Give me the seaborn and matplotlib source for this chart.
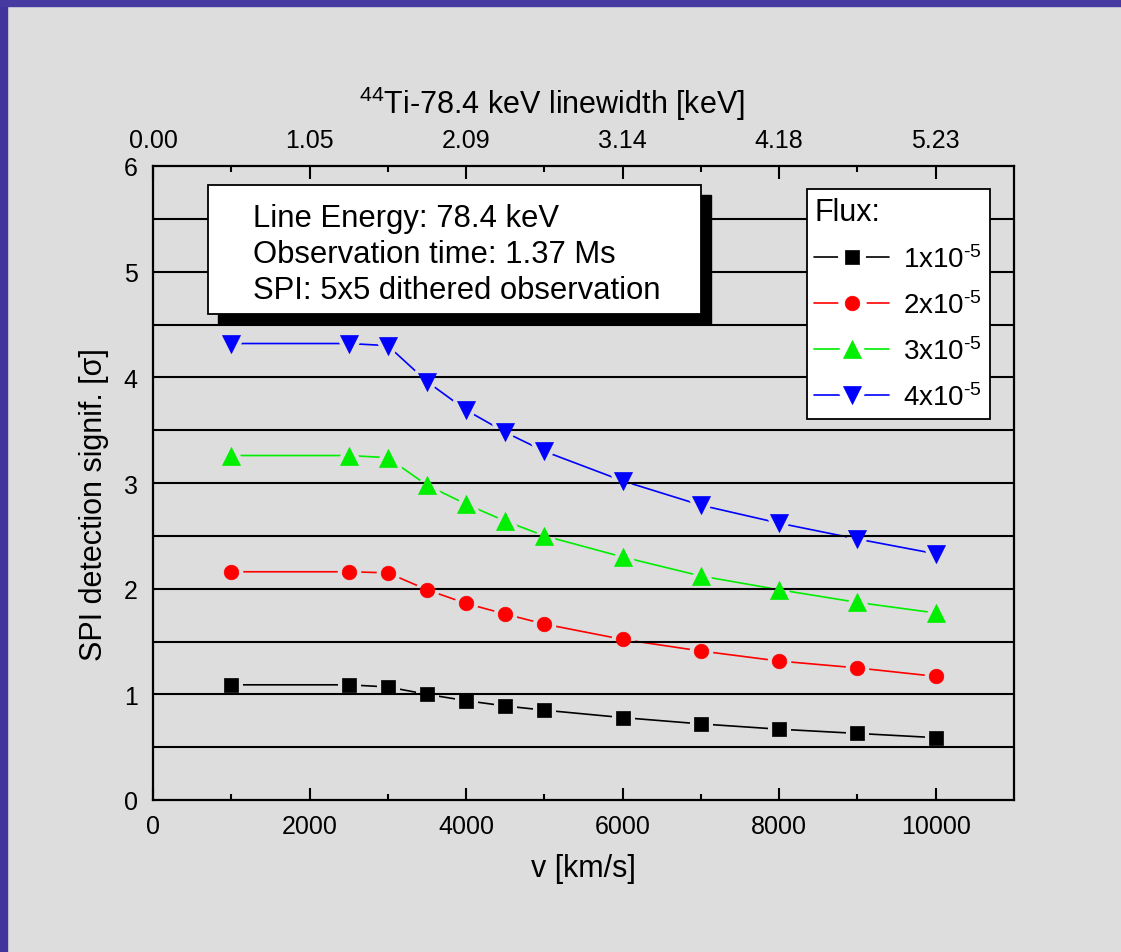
import numpy as np
import pandas as pd
import seaborn as sns
import matplotlib.pyplot as plt
from matplotlib.patches import Rectangle
from matplotlib.lines import Line2D
from matplotlib.markers import MarkerStyle
from matplotlib.legend_handler import HandlerTuple
import matplotlib.transforms as mtransforms

sns.set_style("white")
plt.rcParams["font.family"] = ["Liberation Sans", "DejaVu Sans"]
plt.rcParams["mathtext.fontset"] = "custom"
plt.rcParams["mathtext.rm"] = "Liberation Sans"
plt.rcParams["mathtext.it"] = "Liberation Sans:italic"
plt.rcParams["mathtext.bf"] = "Liberation Sans:bold"
plt.rcParams["mathtext.default"] = "regular"
for k in ["text.color", "axes.labelcolor", "xtick.color", "ytick.color"]:
    plt.rcParams[k] = "black"

# data
v = [1000, 2500, 3000, 3500, 4000, 4500, 5000, 6000, 7000, 8000, 9000, 10000]
flux_1 = [1.09, 1.09, 1.07, 1.00, 0.94, 0.89, 0.85, 0.78, 0.72, 0.67, 0.63, 0.59]
flux_2 = [2.16, 2.16, 2.15, 1.99, 1.86, 1.76, 1.665, 1.52, 1.41, 1.315, 1.25, 1.17]
flux_3 = [3.26, 3.26, 3.24, 2.98, 2.80, 2.64, 2.50, 2.30, 2.12, 1.99, 1.87, 1.77]
flux_4 = [4.32, 4.32, 4.30, 3.96, 3.69, 3.48, 3.30, 3.02, 2.79, 2.62, 2.47, 2.33]
flux_labels = [r"1x10$^{\text{-}5}$", r"2x10$^{\text{-}5}$",
               r"3x10$^{\text{-}5}$", r"4x10$^{\text{-}5}$"]
top_labels = ["0.00", "1.05", "2.09", "3.14", "4.18", "5.23"]

df = pd.DataFrame({"v": v * 4,
                   "sig": flux_1 + flux_2 + flux_3 + flux_4,
                   "flux": np.repeat(flux_labels, len(v))})

bg = "#dddddd"
colors = ["black", "#ff0000", "#00ee00", "#0000ff"]
markers = [MarkerStyle("s", joinstyle="round"), MarkerStyle("o"),
           MarkerStyle("^", joinstyle="round"), MarkerStyle("v", joinstyle="round")]
msizes = [9.5, 10.5, 13.5, 13.5]

fig = plt.figure(figsize=(11.21, 9.53), dpi=100, facecolor=bg)
fig.patches.append(Rectangle((0, 0), 7 / 1121, 1, transform=fig.transFigure,
                             color="#41349c", zorder=10))
fig.patches.append(Rectangle((0, 1 - 7 / 953), 1, 7 / 953, transform=fig.transFigure,
                             color="#4639a2", zorder=10))
ax = fig.add_axes([153 / 1121, 1 - 801 / 953, 861 / 1121, 634 / 953])
ax.set_facecolor(bg)

handles = []
for lab, c, m, ms in zip(flux_labels, colors, markers, msizes):
    sub = df[df.flux == lab]
    # line + background halo around markers (gives the gaps)
    sns.lineplot(data=sub, x="v", y="sig", color=c, lw=1.2, marker=m, ms=ms,
                 mec=bg, mew=6.5, mfc=bg, zorder=2, ax=ax)
    # the markers themselves
    sns.lineplot(data=sub, x="v", y="sig", color=c, ls="none", marker=m, ms=ms,
                 mec=c, mew=0.5, zorder=3, ax=ax)
    h1 = Line2D([], [], color=c, lw=1.2, marker=m, ms=ms, mec="white", mfc="white", mew=10)
    h2 = Line2D([], [], color=c, ls="none", marker=m, ms=ms, mec=c, mew=0.5)
    handles.append((h1, h2))

for yv in np.arange(0.5, 6, 0.5):
    ax.axhline(yv, color="black", lw=1.5, zorder=2.5)

ax.set_xlim(0, 11000)
ax.set_ylim(0, 6)
ax.set_xticks(range(0, 10001, 2000))
ax.set_xticks(range(1000, 11000, 2000), minor=True)
ax.set_yticks(range(0, 7))
ax.tick_params(axis="x", which="major", direction="in", length=9, width=1.5,
               labelsize=18, pad=10, color="black")
ax.tick_params(axis="x", which="minor", direction="in", length=4.5, width=1.5,
               color="black")
ax.tick_params(axis="y", length=0, labelsize=18, pad=11)
for s in ax.spines.values():
    s.set_color("black")
    s.set_linewidth(1.6)

ax.set_xlabel("v [km/s]", fontsize=22)
ax.xaxis.set_label_coords(0.5, -0.083)
ax.set_ylabel("SPI detection signif. [σ]", fontsize=22)
ax.yaxis.set_label_coords(-0.051, 0.467)

ax2 = ax.twiny()
ax2.set_xlim(ax.get_xlim())
ax2.set_xticks(range(0, 10001, 2000))
ax2.set_xticklabels(top_labels)
ax2.set_xticks(range(1000, 11000, 2000), minor=True)
ax2.tick_params(axis="x", which="major", direction="in", length=9, width=1.5,
                labelsize=18, pad=10, color="black")
ax2.tick_params(axis="x", which="minor", direction="in", length=4.5, width=1.5,
                color="black")
ax2.set_xlabel("$^{44}$Ti-78.4 keV linewidth [keV]", fontsize=22)
ax2.xaxis.set_label_coords(0.463, 1.083)
for s in ax2.spines.values():
    s.set_visible(False)

# info box with drop shadow
shadow_tr = mtransforms.offset_copy(ax.transAxes, fig=fig, x=10, y=-10, units="dots")
box = (0.064, 0.767, 0.572, 0.203)
ax.add_patch(Rectangle(box[:2], box[2], box[3], transform=shadow_tr,
                       facecolor="black", edgecolor="black", zorder=5, clip_on=False))
ax.add_patch(Rectangle(box[:2], box[2], box[3], transform=ax.transAxes,
                       facecolor="white", edgecolor="black", lw=1.3, zorder=6,
                       clip_on=False))
for txt, yb in zip(["Line Energy: 78.4 keV", "Observation time: 1.37 Ms",
                    "SPI: 5x5 dithered observation"], [0.9054, 0.8486, 0.7918]):
    ax.text(0.116, yb, txt, transform=ax.transAxes, fontsize=22.3, va="baseline",
            ha="left", zorder=7)

leg = ax.legend(handles=handles, labels=flux_labels, title="Flux:",
                handler_map={tuple: HandlerTuple(ndivide=1, pad=0)},
                loc="upper right", bbox_to_anchor=(0.972, 0.964), borderaxespad=0,
                fontsize=20, title_fontsize=22, alignment="left",
                handlelength=2.7, handletextpad=0.5, labelspacing=0.66,
                borderpad=0.28, fancybox=False, frameon=True, framealpha=1)
leg.get_frame().set_edgecolor("black")
leg.get_frame().set_linewidth(1.3)
leg.set_zorder(8)

fig.savefig("out.png", dpi=100, facecolor=bg)
